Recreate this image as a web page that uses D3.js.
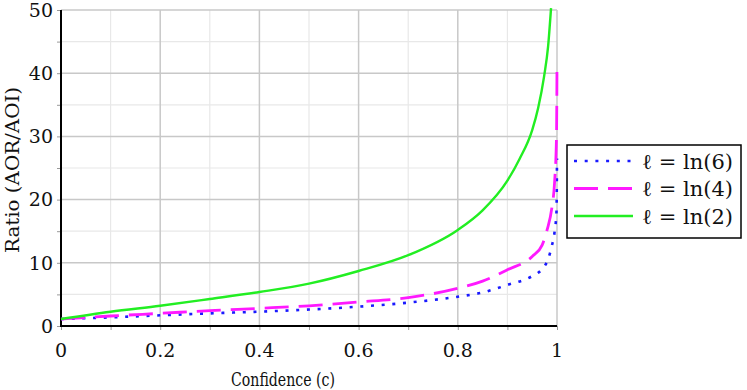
<!DOCTYPE html>
<html>
<head>
<meta charset="utf-8">
<script src="https://cdn.jsdelivr.net/npm/d3@7"></script>
<style>
  body { margin: 0; background: #fff; }
  svg text { font-family: "DejaVu Serif", "Liberation Serif", serif; }
</style>
</head>
<body>
<div id="chart"></div>
<script>
let width = 747,
  height = 390;

// values
let cBlue = [0, 0.1, 0.2, 0.3, 0.4, 0.5, 0.6, 0.7, 0.8, 0.85, 0.9, 0.95, 0.97, 0.98, 0.99, 0.995, 0.999, 1.0];
let ratioBlue = [1.1, 1.37, 1.69, 2.0, 2.27, 2.6, 3.06, 3.7, 4.64, 5.3, 6.5, 7.9, 9.0, 10.2, 12.8, 14.8, 18.1, 26.5];

let cMagenta = [0, 0.1, 0.2, 0.3, 0.4, 0.5, 0.6, 0.7, 0.8, 0.85, 0.9, 0.95, 0.97, 0.98, 0.99, 0.995, 0.999, 1.0];
let ratioMagenta = [1.1, 1.58, 2.0, 2.43, 2.8, 3.2, 3.8, 4.5, 5.96, 7.1, 8.9, 11.0, 12.8, 15.2, 18.9, 22.6, 30, 41.5];

let cGreen = [0, 0.1, 0.2, 0.3, 0.4, 0.5, 0.6, 0.7, 0.8, 0.85, 0.9, 0.925, 0.95, 0.962, 0.974, 0.982, 0.988];
let ratioGreen = [1.1, 2.26, 3.2, 4.27, 5.38, 6.7, 8.7, 11.2, 15.2, 18.3, 23.0, 26.5, 31.0, 34.5, 39.5, 44.2, 50.3];

let seriesNames = ['ℓ = ln(6)', 'ℓ = ln(4)', 'ℓ = ln(2)'];
let xTicks = [0, 0.2, 0.4, 0.6, 0.8, 1];
let xTickLabels = ['0', '0.2', '0.4', '0.6', '0.8', '1'];
let yTicks = [0, 10, 20, 30, 40, 50];

let series = [
  { name: seriesNames[0], c: cBlue, r: ratioBlue, color: '#1a1aff', dash: '3,7.7', w: 2.6 },
  { name: seriesNames[1], c: cMagenta, r: ratioMagenta, color: '#ff19ff', dash: '24,10', w: 2.8 },
  { name: seriesNames[2], c: cGreen, r: ratioGreen, color: '#22ee22', dash: null, w: 2.4 }
];

let plotLeft = 61, plotRight = 557, plotTop = 10, plotBottom = 326;

let svg = d3.select('#chart')
  .append('svg')
  .attr('width', width)
  .attr('height', height);

let xScale = d3.scaleLinear().domain([0, 1]).range([plotLeft, plotRight]);
let yScale = d3.scaleLinear().domain([0, 50]).range([plotBottom, plotTop]);

// minor grid
let minorX = d3.range(0.1, 1, 0.2);
let minorY = d3.range(5, 50, 10);
svg.append('g').selectAll('line').data(minorX).enter().append('line')
  .attr('x1', d => xScale(d)).attr('x2', d => xScale(d))
  .attr('y1', plotTop).attr('y2', plotBottom)
  .attr('stroke', '#e8e8e8').attr('stroke-width', 1.2);
svg.append('g').selectAll('line').data(minorY).enter().append('line')
  .attr('x1', plotLeft).attr('x2', plotRight)
  .attr('y1', d => yScale(d)).attr('y2', d => yScale(d))
  .attr('stroke', '#e8e8e8').attr('stroke-width', 1.2);

// major grid
svg.append('g').selectAll('line').data(xTicks.slice(1)).enter().append('line')
  .attr('x1', d => xScale(d)).attr('x2', d => xScale(d))
  .attr('y1', plotTop).attr('y2', plotBottom)
  .attr('stroke', '#c8c8c8').attr('stroke-width', 1.5);
svg.append('g').selectAll('line').data(yTicks.slice(1)).enter().append('line')
  .attr('x1', plotLeft).attr('x2', plotRight)
  .attr('y1', d => yScale(d)).attr('y2', d => yScale(d))
  .attr('stroke', '#c8c8c8').attr('stroke-width', 1.5);

// axes (ticks only, the black lines are drawn after)
let xAxis = d3.axisBottom(xScale)
  .tickValues(d3.range(0, 1.0001, 0.1))
  .tickSize(4)
  .tickFormat('');
let gx = svg.append('g').attr('transform', 'translate(0,' + plotBottom + ')').call(xAxis);
gx.select('.domain').remove();
gx.selectAll('.tick line').attr('stroke', '#999');

let yAxis = d3.axisLeft(yScale)
  .tickValues(d3.range(0, 50.001, 5))
  .tickSize(4)
  .tickFormat('');
let gy = svg.append('g').attr('transform', 'translate(' + plotLeft + ',0)').call(yAxis);
gy.select('.domain').remove();
gy.selectAll('.tick line').attr('stroke', '#999');

svg.append('line')
  .attr('x1', plotLeft).attr('x2', plotLeft)
  .attr('y1', plotTop).attr('y2', plotBottom + 1)
  .attr('stroke', '#000').attr('stroke-width', 2);
svg.append('line')
  .attr('x1', plotLeft - 1).attr('x2', plotRight)
  .attr('y1', plotBottom).attr('y2', plotBottom)
  .attr('stroke', '#000').attr('stroke-width', 2);

// tick labels
svg.append('g').selectAll('text').data(xTicks).enter().append('text')
  .attr('x', d => xScale(d))
  .attr('y', 357)
  .attr('text-anchor', 'middle')
  .attr('font-size', 19)
  .attr('fill', '#111')
  .text((d, i) => xTickLabels[i]);

svg.append('g').selectAll('text').data(yTicks).enter().append('text')
  .attr('x', 53)
  .attr('y', d => yScale(d))
  .attr('dy', '0.36em')
  .attr('text-anchor', 'end')
  .attr('font-size', 19)
  .attr('fill', '#111')
  .text(d => d);

// axis titles
svg.append('text')
  .attr('x', 283)
  .attr('y', 386)
  .attr('text-anchor', 'middle')
  .attr('font-size', 18)
  .attr('textLength', 104)
  .attr('lengthAdjust', 'spacingAndGlyphs')
  .attr('fill', '#111')
  .text('Confidence (c)');

svg.append('text')
  .attr('transform', 'translate(19,170) rotate(-90)')
  .attr('text-anchor', 'middle')
  .attr('font-size', 19)
  .attr('textLength', 166)
  .attr('lengthAdjust', 'spacingAndGlyphs')
  .attr('fill', '#111')
  .text('Ratio (AOR/AOI)');

// curves
let line = d3.line()
  .x(d => xScale(d[0]))
  .y(d => yScale(d[1]))
  .curve(d3.curveMonotoneX);

series.forEach(function (s) {
  let pts = s.c.map((c, i) => [c, s.r[i]]);
  svg.append('path')
    .attr('d', line(pts))
    .attr('fill', 'none')
    .attr('stroke', s.color)
    .attr('stroke-width', s.w)
    .attr('stroke-dasharray', s.dash);
});

// legend
let legend = svg.append('g').attr('id', 'legend');
legend.append('rect')
  .attr('x', 567).attr('y', 145)
  .attr('width', 174).attr('height', 93)
  .attr('fill', '#fff')
  .attr('stroke', '#000')
  .attr('stroke-width', 1.5);

let items = legend.selectAll('g.item').data(series).enter().append('g')
  .attr('class', 'item')
  .attr('transform', (d, i) => 'translate(0,' + (161 + i * 27.5) + ')');
items.append('line')
  .attr('x1', 574).attr('x2', 633)
  .attr('y1', 0).attr('y2', 0)
  .attr('stroke', d => d.color)
  .attr('stroke-width', d => d.w)
  .attr('stroke-dasharray', d => d.dash);
items.append('text')
  .attr('x', 642)
  .attr('y', 0)
  .attr('dy', '0.36em')
  .attr('font-size', 21)
  .attr('textLength', 91)
  .attr('lengthAdjust', 'spacingAndGlyphs')
  .attr('fill', '#111')
  .text(d => d.name);
</script>
</body>
</html>
